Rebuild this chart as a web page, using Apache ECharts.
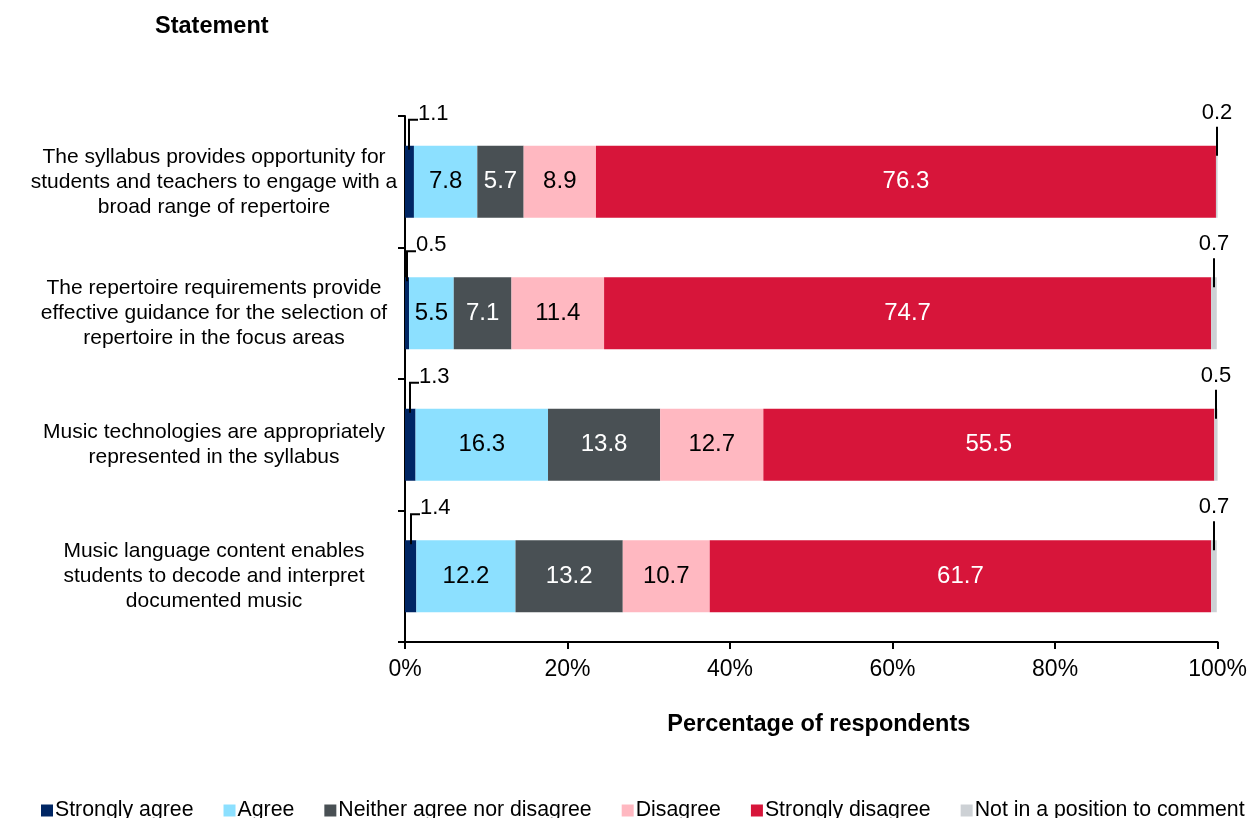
<!DOCTYPE html>
<html>
<head>
<meta charset="utf-8">
<script src="https://cdn.jsdelivr.net/npm/echarts@6/dist/echarts.min.js"></script>
<style>
  html, body { margin: 0; padding: 0; background: #fff; }
  #chart { width: 1250px; height: 818px; }
</style>
</head>
<body>
<div id="chart"></div>
<script>
// Survey statements (top to bottom)
const statements = [
  'The syllabus provides opportunity for\nstudents and teachers to engage with a\nbroad range of repertoire',
  'The repertoire requirements provide\neffective guidance for the selection of\nrepertoire in the focus areas',
  'Music technologies are appropriately\nrepresented in the syllabus',
  'Music language content enables\nstudents to decode and interpret\ndocumented music'
];

// Response categories
const responses = ['Strongly agree', 'Agree', 'Neither agree nor disagree', 'Disagree', 'Strongly disagree', 'Not in a position to comment'];

// Percentage of respondents per response, one value per statement
const stronglyAgree = [1.1, 0.5, 1.3, 1.4];
const agree = [7.8, 5.5, 16.3, 12.2];
const neither = [5.7, 7.1, 13.8, 13.2];
const disagree = [8.9, 11.4, 12.7, 10.7];
const stronglyDisagree = [76.3, 74.7, 55.5, 61.7];
const notInPosition = [0.2, 0.7, 0.5, 0.7];

const xTicks = [0, 20, 40, 60, 80, 100];

const colors = ['#002664', '#8CE0FF', '#495054', '#FFB8C1', '#D7153A', '#CDD1D5'];
const labelColors = ['#000', '#000', '#fff', '#000', '#fff', '#000'];
const seriesValues = [stronglyAgree, agree, neither, disagree, stronglyDisagree, notInPosition];

const FONT = '"Liberation Sans", Arial, sans-serif';
const BAR_W = 72;

const barSeries = responses.map((name, i) => ({
  name: name,
  type: 'bar',
  stack: 'total',
  barWidth: BAR_W,
  data: seriesValues[i],
  itemStyle: { color: colors[i] },
  label: {
    show: i > 0 && i < 5,
    position: 'inside',
    color: labelColors[i],
    fontFamily: FONT,
    fontSize: 24,
    formatter: p => p.value.toFixed(1)
  },
  emphasis: { disabled: true }
}));

// Call-out labels for the thin segments at each end of the bars
const leftCallouts = stronglyAgree.map((v, i) => [i, 0, v]);
const rightCallouts = notInPosition.map((v, i) => {
  let start = 0;
  for (let k = 0; k < 5; k++) start += seriesValues[k][i];
  return [i, Math.min(start, 100 - v), v];
});

function calloutRenderer(side) {
  return function (params, api) {
    const cat = api.value(0);
    const start = api.value(1);
    const val = api.value(2);
    const pt = api.coord([start + val / 2, cat]);
    const x = Math.round(pt[0]);
    const top = pt[1] - BAR_W / 2;
    const lineStyle = { stroke: '#000', lineWidth: 2 };
    const children = [];
    if (side === 'left') {
      children.push({
        type: 'polyline',
        shape: { points: [[x, top + 4], [x, top - 26], [x + 9, top - 26]] },
        style: Object.assign({ fill: null }, lineStyle)
      });
      children.push({
        type: 'text',
        style: {
          x: x + 9, y: top - 32,
          text: val.toFixed(1),
          fill: '#000', font: '22px ' + FONT,
          align: 'left', verticalAlign: 'middle'
        }
      });
    } else {
      children.push({
        type: 'line',
        shape: { x1: x, y1: top - 19, x2: x, y2: top + 10 },
        style: lineStyle
      });
      children.push({
        type: 'text',
        style: {
          x: x, y: top - 33,
          text: val.toFixed(1),
          fill: '#000', font: '22px ' + FONT,
          align: 'center', verticalAlign: 'middle'
        }
      });
    }
    return { type: 'group', children: children };
  };
}

const chart = echarts.init(document.getElementById('chart'), null, { renderer: 'canvas' });

chart.setOption({
  animation: false,
  textStyle: { fontFamily: FONT },
  grid: { left: 405, right: 32, top: 116, bottom: 176, containLabel: false },
  legend: {
    data: responses,
    left: 41,
    top: 800,
    padding: 0,
    icon: 'rect',
    itemWidth: 12,
    itemHeight: 12,
    itemGap: 30,
    textStyle: { fontFamily: FONT, fontSize: 21.3, color: '#000', padding: [0, 0, 0, -3] },
    selectedMode: false
  },
  xAxis: {
    type: 'value',
    min: xTicks[0],
    max: xTicks[xTicks.length - 1],
    interval: 20,
    name: 'Percentage of respondents',
    nameLocation: 'middle',
    nameGap: 71,
    nameTextStyle: { fontFamily: FONT, fontSize: 23.5, fontWeight: 'bold', color: '#000', padding: [0, 0, 0, 15] },
    axisLine: { show: true, lineStyle: { color: '#000', width: 2 } },
    axisTick: { show: true, length: 7, lineStyle: { color: '#000', width: 2 } },
    axisLabel: { formatter: '{value}%', fontFamily: FONT, fontSize: 23, color: '#000', margin: 16 },
    splitLine: { show: false }
  },
  yAxis: {
    type: 'category',
    data: statements,
    inverse: true,
    axisLine: { show: true, lineStyle: { color: '#000', width: 2 } },
    axisTick: { show: true, length: 7, lineStyle: { color: '#000', width: 2 } },
    axisLabel: { fontFamily: FONT, fontSize: 21, color: '#000', lineHeight: 25, margin: 191, align: 'center' }
  },
  graphic: [{
    type: 'text',
    left: 155,
    top: 15,
    style: { text: 'Statement', font: 'bold 23.5px ' + FONT, fill: '#000' }
  }],
  series: barSeries.concat([
    {
      type: 'custom',
      name: 'left-callouts',
      renderItem: calloutRenderer('left'),
      data: leftCallouts,
      encode: { x: [1, 2], y: 0 },
      z: 5,
      silent: true
    },
    {
      type: 'custom',
      name: 'right-callouts',
      renderItem: calloutRenderer('right'),
      data: rightCallouts,
      encode: { x: [1, 2], y: 0 },
      z: 5,
      silent: true
    }
  ])
});
</script>
</body>
</html>
